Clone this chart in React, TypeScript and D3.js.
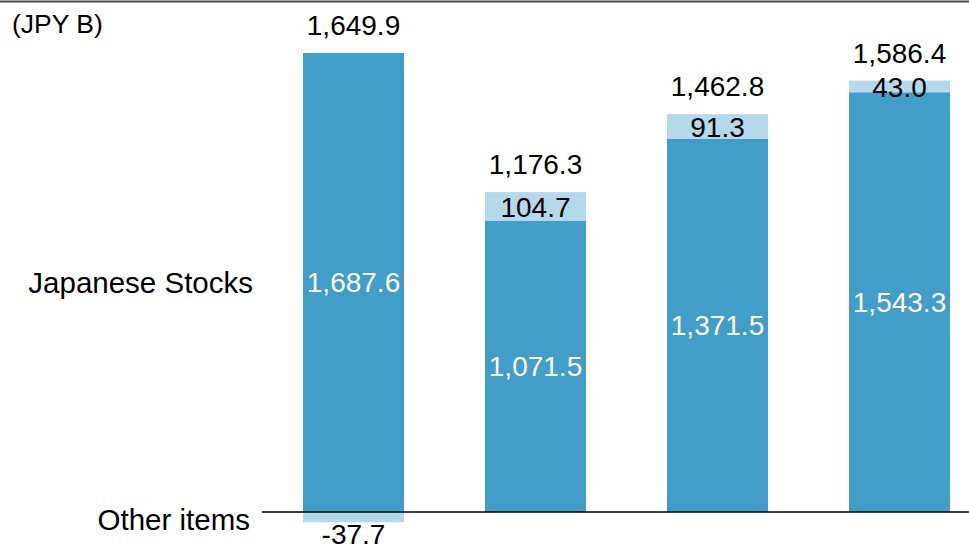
import React from "react";
import * as d3 from "d3";

const categories = ["P1", "P2", "P3", "P4"];
const japaneseStocks = [1687.6, 1071.5, 1371.5, 1543.3];
const otherItems = [-37.7, 104.7, 91.3, 43.0];
const totals = [1649.9, 1176.3, 1462.8, 1586.4];
const seriesNames = ["Japanese Stocks", "Other items"];
const unitLabel = "(JPY B)";

const W = 969;
const H = 546;
const DARK = "#429dc9";
const LIGHT = "#b4daea";
const FONT = "'Liberation Sans', Arial, Helvetica, sans-serif";

const locale = d3.formatLocale({
  decimal: ".",
  thousands: ",",
  grouping: [3],
  currency: ["", ""],
  minus: "-",
});
const fmt = locale.format(",.1f");

export default function App() {
  const x = d3
    .scaleBand<string>()
    .domain(categories)
    .range([303, 950])
    .paddingInner(0.445)
    .paddingOuter(0);
  const y = d3.scaleLinear().domain([0, d3.max(japaneseStocks) as number]).range([512, 53]);
  const bw = x.bandwidth();

  return (
    <svg
      width={W}
      height={H}
      style={{ position: "absolute", left: 0, top: 0, display: "block", background: "#fff" }}
      fontFamily={FONT}
    >
      <line x1={0} x2={W} y1={1.5} y2={1.5} stroke="#4d4d4d" strokeWidth={2} />
      <text x={12} y={33} fontSize={26.5} fill="#000">
        {unitLabel}
      </text>

      {categories.map((c, i) => {
        const x0 = x(c) as number;
        const cx = x0 + bw / 2;
        const js = japaneseStocks[i];
        const ot = otherItems[i];
        const jsTop = y(js);
        const otY0 = ot >= 0 ? y(js + ot) : y(0);
        const otY1 = ot >= 0 ? y(js) : y(ot);
        const stackTop = ot >= 0 ? y(js + ot) : y(js);
        return (
          <g key={c}>
            <rect x={x0} y={jsTop} width={bw} height={y(0) - jsTop} fill={DARK} />
            <rect x={x0} y={otY0} width={bw} height={otY1 - otY0} fill={LIGHT} />
            <text
              x={cx}
              y={(y(0) + jsTop) / 2}
              textAnchor="middle"
              dominantBaseline="central"
              fontSize={28}
              fill="#fff"
            >
              {fmt(js)}
            </text>
            {ot >= 0 ? (
              <text
                x={cx}
                y={(otY0 + otY1) / 2 + 1}
                textAnchor="middle"
                dominantBaseline="central"
                fontSize={28}
                fill="#000"
              >
                {fmt(ot)}
              </text>
            ) : (
              <text x={cx} y={otY1 + 22} textAnchor="middle" fontSize={28} fill="#000">
                {fmt(ot)}
              </text>
            )}
            <text x={cx} y={stackTop - 18} textAnchor="middle" fontSize={28} fill="#000">
              {fmt(totals[i])}
            </text>
          </g>
        );
      })}

      <line x1={262} x2={W} y1={y(0)} y2={y(0)} stroke="#000" strokeWidth={1.5} />

      <text
        x={253}
        y={(y(0) + y(japaneseStocks[0])) / 2}
        textAnchor="end"
        dominantBaseline="central"
        fontSize={29.5}
        fill="#000"
      >
        {seriesNames[0]}
      </text>
      <text
        x={250}
        y={(y(0) + y(otherItems[0])) / 2 + 2}
        textAnchor="end"
        dominantBaseline="central"
        fontSize={29.5}
        fill="#000"
      >
        {seriesNames[1]}
      </text>
    </svg>
  );
}
